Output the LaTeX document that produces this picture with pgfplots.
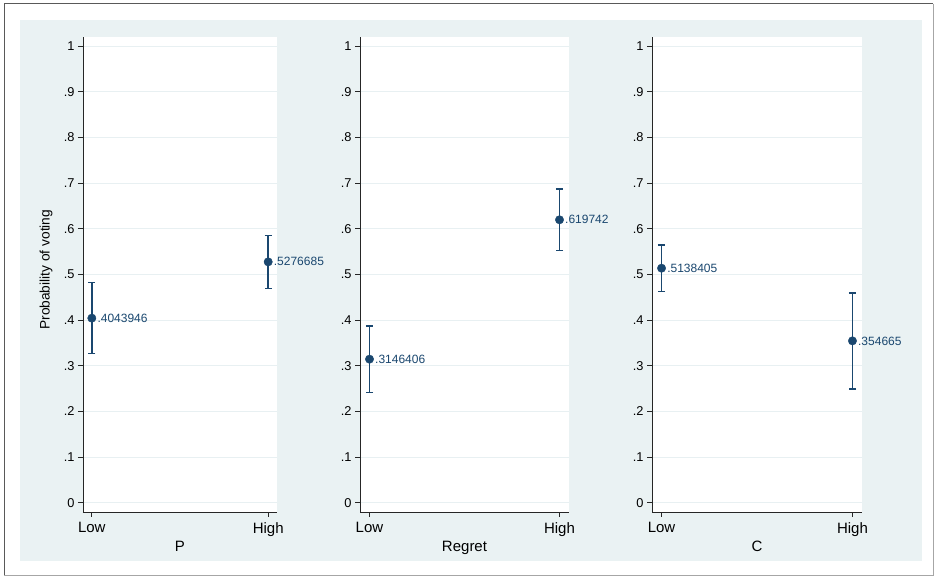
\documentclass[border=0pt]{standalone}
\usepackage{pgfplots}
\usepackage{pgfplotstable}
\pgfplotsset{compat=1.18}
\usepackage{fontspec}
\setmainfont{Liberation Sans}
\definecolor{bgc}{RGB}{234,242,243}
\definecolor{gridc}{RGB}{232,240,242}
\definecolor{navy}{RGB}{26,71,111}

\pgfplotstableread{
x y err label
0 0.4043946 0.078 .4043946
1 0.5276685 0.058 .5276685
}\tabP
\pgfplotstableread{
x y err label
0 0.3146406 0.073 .3146406
1 0.619742 0.0675 .619742
}\tabR
\pgfplotstableread{
x y err label
0 0.5138405 0.051 .5138405
1 0.354665 0.105 .354665
}\tabC

\pgfplotsset{
  error bars/error bar style={line width=1.6pt, draw=navy},
  error bars/error mark options={rotate=90, mark size=3.6pt, line width=1.4pt, draw=navy},
  stata/.style={
    scale only axis,
    height=475pt,
    xmin=-0.05, xmax=1.05,
    ymin=-0.02, ymax=1.02,
    axis x line*=bottom,
    axis y line*=left,
    axis line style={-, line width=0.9pt, black!85},
    axis background/.style={fill=white},
    xtick={0,1},
    xticklabels={Low,High},
    ytick={0,0.1,0.2,0.3,0.4,0.5,0.6,0.7,0.8,0.9,1},
    yticklabels={0,.1,.2,.3,.4,.5,.6,.7,.8,.9,1},
    tick align=outside,
    major tick length=5pt,
    every tick/.style={black!85, line width=0.8pt},
    ymajorgrids,
    xmajorgrids=false,
    grid style={gridc, line width=0.8pt},
    xticklabel style={font=\fontsize{15}{17}\selectfont, yshift=-2pt},
    yticklabel style={font=\fontsize{12.8}{14}\selectfont},
    xlabel style={font=\fontsize{15}{17}\selectfont, yshift=2pt},
    clip=false,
    point meta=explicit symbolic,
    nodes near coords,
    every node near coord/.append style={anchor=west, xshift=4.5pt, inner sep=1pt,
      font=\fontsize{12}{14}\selectfont, text=navy},
  },
  ciplot/.style={
    navy, mark=*, mark size=4.2pt, only marks, line width=1.6pt,
    mark options={fill=navy, draw=navy, line width=0.4pt},
    error bars/.cd, y dir=both, y explicit,
  },
}

\begin{document}
\begin{tikzpicture}
\useasboundingbox (0,0) rectangle (935pt,577pt);
\fill[white] (0,0) rectangle (935pt,577pt);
\fill[bgc] (20pt,16pt) rectangle (922pt,557pt);
\draw[black!65, line width=1pt] (933pt,573pt) -- (4pt,573pt) -- (4pt,1pt);
\draw[black!35, line width=1pt] (4pt,1pt) -- (933pt,1pt) -- (933pt,573pt);

\begin{axis}[stata, at={(83pt,65pt)}, anchor=south west, width=194pt,
  xlabel={P}, ylabel={Probability of voting},
  every axis y label/.style={at={(axis description cs:-0.191,0.51)}, rotate=90, anchor=center,
    font=\fontsize{13.75}{15}\selectfont}]
\addplot+[ciplot] table[x=x, y=y, y error=err, meta=label] {\tabP};
\end{axis}

\begin{axis}[stata, at={(360pt,65pt)}, anchor=south west, width=209pt,
  xlabel={Regret}]
\addplot+[ciplot] table[x=x, y=y, y error=err, meta=label] {\tabR};
\end{axis}

\begin{axis}[stata, at={(652pt,65pt)}, anchor=south west, width=210pt,
  xlabel={C}]
\addplot+[ciplot] table[x=x, y=y, y error=err, meta=label] {\tabC};
\end{axis}
\end{tikzpicture}
\end{document}
